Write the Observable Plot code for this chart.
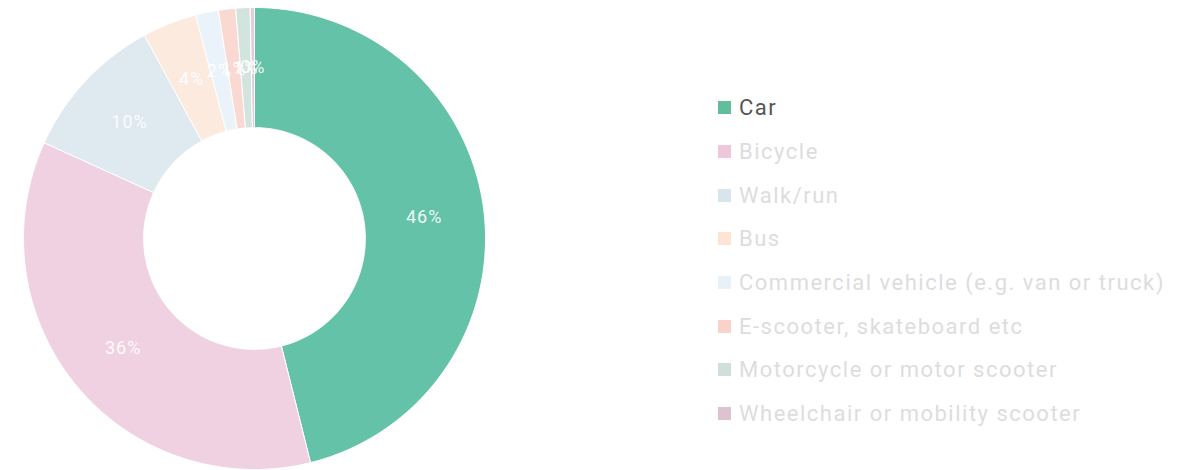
<!DOCTYPE html>
<html>
<head>
<meta charset="utf-8">
<script src="https://cdn.jsdelivr.net/npm/d3@7"></script>
<script src="https://cdn.jsdelivr.net/npm/@observablehq/plot@0.6"></script>
<style>
  html, body { margin: 0; padding: 0; background: #fff; }
  #wrap { position: relative; width: 1195px; height: 470px; overflow: hidden; font-family: Roboto, "Noto Sans", sans-serif; }
  #chart { position: absolute; left: 0; top: 0; }
  #legend { position: absolute; left: 718px; top: 86px; }
  .row { height: 43.7px; display: flex; align-items: center; font-size: 22px; letter-spacing: 1.5px; white-space: nowrap; }
  .sw { width: 13px; height: 13px; margin-right: 8px; flex: none; }
</style>
</head>
<body>
<div id="wrap"><div id="chart"></div><div id="legend"></div></div>
<script>
const categories = ["Car", "Bicycle", "Walk/run", "Bus", "Commercial vehicle (e.g. van or truck)", "E-scooter, skateboard etc", "Motorcycle or motor scooter", "Wheelchair or mobility scooter"];
const shares = [46.1, 35.7, 10.3, 3.8, 1.6, 1.2, 1.0, 0.3];
const labels = ["46%", "36%", "10%", "4%", "2%", "1%", "1%", "0%"];
const colors = ["#63c2a7", "#f0d1e1", "#dfe9f0", "#fdeadf", "#eaf3f9", "#fbd9d3", "#d3e3dd", "#e3cdd8"];
const legendColors = ["#5fbf9c", "#eec8da", "#d8e5ec", "#fde4d5", "#e8f1f7", "#fad2ca", "#cfe0d8", "#dcc3cf"];
const legendText = ["#555555", "#dddddd", "#dddddd", "#dddddd", "#dddddd", "#dddddd", "#dddddd", "#dddddd"];

const inner = 0.48, outer = 1.0;
const pie = d3.pie().sort(null).value(d => d)(shares);

// build ring polygons from angles
const polys = [];
pie.forEach((p, i) => {
  const a0 = p.startAngle, a1 = p.endAngle;
  const n = Math.max(2, Math.ceil((a1 - a0) / 0.01));
  const pts = [];
  for (let k = 0; k <= n; k++) { const a = a0 + (a1 - a0) * k / n; pts.push([outer * Math.sin(a), outer * Math.cos(a)]); }
  for (let k = n; k >= 0; k--) { const a = a0 + (a1 - a0) * k / n; pts.push([inner * Math.sin(a), inner * Math.cos(a)]); }
  pts.push(pts[0]);
  pts.forEach(([x, y]) => polys.push({cat: categories[i], x, y}));
});
const mid = (inner + outer) / 2;
const lab = pie.map((p, i) => { const a = (p.startAngle + p.endAngle) / 2; return {x: mid * Math.sin(a), y: mid * Math.cos(a), t: labels[i]}; });

const R = 231, cx = 254, cy = 238, W = 512, H = 470;
const chart = Plot.plot({
  width: W, height: H, margin: 0,
  x: {domain: [-cx / R, (W - cx) / R], axis: null},
  y: {domain: [-(H - cy) / R, cy / R], axis: null},
  color: {domain: categories, range: colors},
  marks: [
    Plot.line(polys, {x: "x", y: "y", z: "cat", fill: "cat", stroke: "white", strokeWidth: 1, curve: "linear"}),
    Plot.text(lab, {x: "x", y: "y", text: "t", fill: "white", fontSize: 18, fillOpacity: 0.92})
  ],
  style: {fontFamily: "Roboto, sans-serif", background: "transparent"}
});
chart.querySelectorAll("text").forEach(t => t.style.letterSpacing = "1px");
document.getElementById("chart").appendChild(chart);

const leg = document.getElementById("legend");
categories.forEach((c, i) => {
  const row = document.createElement("div"); row.className = "row";
  const sw = document.createElement("span"); sw.className = "sw"; sw.style.background = legendColors[i];
  const tx = document.createElement("span"); tx.textContent = c; tx.style.color = legendText[i];
  row.appendChild(sw); row.appendChild(tx); leg.appendChild(row);
});
</script>
</body>
</html>
